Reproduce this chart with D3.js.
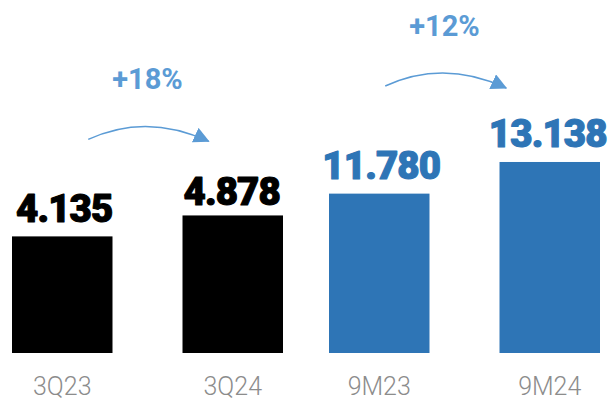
<!DOCTYPE html>
<html>
<head>
<meta charset="utf-8">
<script src="https://cdn.jsdelivr.net/npm/d3@7"></script>
<style>
  html, body { margin: 0; padding: 0; background: #fff; }
  svg { display: block; }
</style>
</head>
<body>
<svg id="chart" width="610" height="401"></svg>
<script>
// Periods, grouped as quarter-on-quarter and nine-month comparisons
const groups = ["Q", "9M"];
const categories = ["3Q23", "3Q24", "9M23", "9M24"];
const categoryGroup = ["Q", "Q", "9M", "9M"];
const values = [4.135, 4.878, 11.780, 13.138];
const valueLabels = ["4.135", "4.878", "11.780", "13.138"];
// Growth annotations: from one period to the next
const growthFrom = [0, 2];
const growthTo = [1, 3];
const growthLabels = ["+18%", "+12%"];

const W = 610, H = 401;
const baseY = 353;
const svg = d3.select("#chart");

const BLACK = "#000000";
const BLUE = "#2E75B6";
const LIGHT_BLUE = "#5B9BD5";
const GREY = "#8C8C8C";
const barColor = g => g === "Q" ? BLACK : BLUE;

// Outer band per group, inner band per period inside a group
const x0 = d3.scaleBand().domain(groups).range([12, 600]).paddingInner(0.1451);
const x1 = d3.scaleBand().domain([0, 1]).range([0, x0.bandwidth()]).paddingInner(0.4106);
const posInGroup = categories.map((c, i) =>
  categoryGroup.slice(0, i).filter(g => g === categoryGroup[i]).length);
const barX = i => x0(categoryGroup[i]) + x1(posInGroup[i]);
const bw = x1.bandwidth();

// Each group has its own value scale
const yScales = {
  "Q": d3.scaleLinear().domain([0, 5]).range([baseY, baseY - 141]),
  "9M": d3.scaleLinear().domain([4.94, 14]).range([baseY, baseY - 211.1])
};
const yOf = i => yScales[categoryGroup[i]](values[i]);

const idx = d3.range(values.length);

// Bars
svg.append("g").selectAll("rect")
  .data(idx).join("rect")
  .attr("x", i => barX(i))
  .attr("y", i => yOf(i))
  .attr("width", bw)
  .attr("height", i => baseY - yOf(i))
  .attr("fill", i => barColor(categoryGroup[i]));

// Value labels (heavy weight, tight spacing)
const labelGap = [14.5, 10.7, 14.7, 15.3];
const labelShift = [2, -1, 2, -2];
svg.append("g").selectAll("text")
  .data(idx).join("text")
  .attr("x", i => barX(i) + bw / 2 + labelShift[i])
  .attr("y", i => yOf(i) - labelGap[i])
  .attr("text-anchor", "middle")
  .attr("font-family", "Roboto, 'Noto Sans', sans-serif")
  .attr("font-weight", 900)
  .attr("font-size", 38.5)
  .attr("letter-spacing", -0.9)
  .attr("fill", i => barColor(categoryGroup[i]))
  .attr("stroke", i => barColor(categoryGroup[i]))
  .attr("stroke-width", 1.1)
  .attr("stroke-linejoin", "round")
  .text(i => valueLabels[i]);

// Category axis labels
const xAxis = svg.append("g");
xAxis.selectAll("text")
  .data(idx).join("text")
  .attr("x", i => barX(i) + bw / 2)
  .attr("y", 395)
  .attr("text-anchor", "middle")
  .attr("font-family", "Roboto, 'Noto Sans', sans-serif")
  .attr("font-weight", 300)
  .attr("font-size", 25)
  .attr("fill", GREY)
  .text(i => categories[i]);

// Arrowhead
svg.append("defs").append("marker")
  .attr("id", "head")
  .attr("markerUnits", "userSpaceOnUse")
  .attr("viewBox", "0 0 16 16")
  .attr("markerWidth", 16)
  .attr("markerHeight", 16)
  .attr("refX", 15)
  .attr("refY", 8)
  .attr("orient", "auto")
  .append("path")
  .attr("d", "M0,0 L16,8 L0,16 Z")
  .attr("fill", LIGHT_BLUE);

// Growth arrows with percentage labels
const arrowShift = [[26, -24, 0], [6, -43.5, -20]];
growthFrom.forEach((a, k) => {
  const b = growthTo[k];
  const [ds, de, dl] = arrowShift[k];
  const sx = barX(a) + bw / 2 + ds;
  const ex = barX(b) + bw / 2 + de;
  const ey = yOf(b) - 74;
  const sy = ey - 2;
  const peakY = ey - 15;
  const mx = (sx + ex) / 2;
  const cx = 2 * (mx - 0.25 * (sx + ex)) - 2;
  const cy = 2 * (peakY - 0.25 * (sy + ey));
  svg.append("path")
    .attr("d", `M${sx},${sy} Q${cx},${cy} ${ex},${ey}`)
    .attr("fill", "none")
    .attr("stroke", LIGHT_BLUE)
    .attr("stroke-width", 1.5)
    .attr("marker-end", "url(#head)");
  svg.append("text")
    .attr("x", (barX(a) + barX(b)) / 2 + bw / 2 + dl)
    .attr("y", ey - 52)
    .attr("text-anchor", "middle")
    .attr("font-family", "Roboto, 'Noto Sans', sans-serif")
    .attr("font-weight", 700)
    .attr("font-size", 29)
    .attr("fill", LIGHT_BLUE)
    .text(growthLabels[k]);
});
</script>
</body>
</html>
